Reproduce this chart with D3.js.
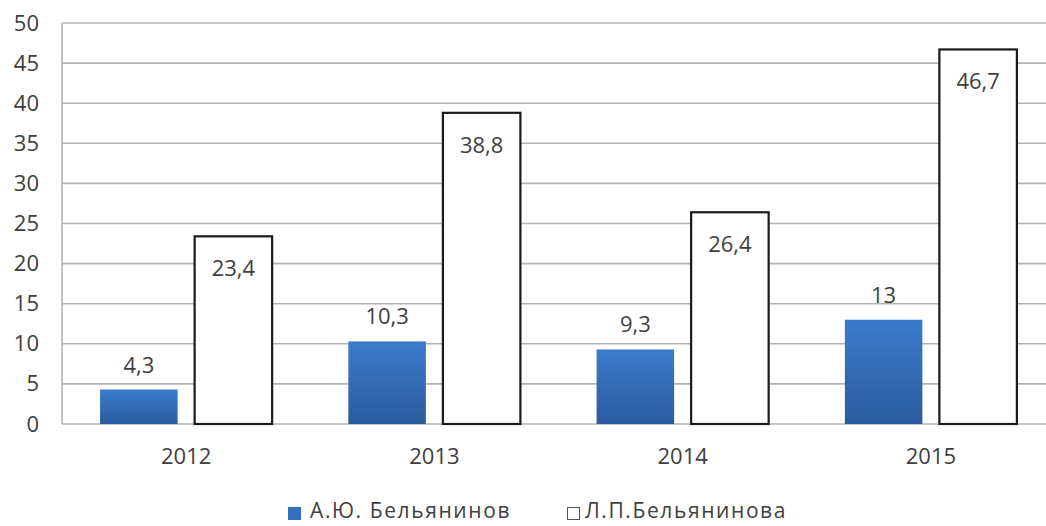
<!DOCTYPE html>
<html><head><meta charset="utf-8">
<script src="https://cdn.jsdelivr.net/npm/d3@7"></script>
<style>html,body{margin:0;padding:0;background:#fff;overflow:hidden}text{font-family:"Open Sans","Noto Sans",sans-serif;fill:#404040}</style>
</head><body>
<svg id="c" width="1046" height="526"></svg>
<script>
const categories = ["2012","2013","2014","2015"];
const seriesNames = ["А.Ю. Бельянинов","Л.П.Бельянинова"];
const seriesA = [4.3, 10.3, 9.3, 13];
const seriesB = [23.4, 38.8, 26.4, 46.7];
const labelsA = ["4,3","10,3","9,3","13"];
const labelsB = ["23,4","38,8","26,4","46,7"];
const yTicks = [0,5,10,15,20,25,30,35,40,45,50];

const FONT = '"Open Sans","Noto Sans",sans-serif';
const svg = d3.select("#c");
const m = {left:62, right:1055, top:23, bottom:424};
const defs = svg.append("defs");
const g = defs.append("linearGradient").attr("id","blue").attr("x1",0).attr("y1",0).attr("x2",0).attr("y2",1);
g.append("stop").attr("offset","0%").attr("stop-color","#3b7bcc");
g.append("stop").attr("offset","100%").attr("stop-color","#2a5b9e");

const x0 = d3.scaleBand().domain(categories).range([m.left,m.right]).paddingInner(0.307).paddingOuter(0.1535);
const x1 = d3.scaleBand().domain([0,1]).range([0,x0.bandwidth()]).paddingInner(0.18).paddingOuter(0);
const y = d3.scaleLinear().domain([0,50]).range([m.bottom,m.top]);

// gridlines
svg.append("g").selectAll("line").data(yTicks).join("line")
  .attr("x1",m.left).attr("x2",m.right).attr("y1",d=>y(d)).attr("y2",d=>y(d))
  .attr("stroke","#b3b3b3").attr("stroke-width",1.6);
// y axis line
svg.append("line").attr("x1",m.left).attr("x2",m.left).attr("y1",m.top).attr("y2",m.bottom)
  .attr("stroke","#b3b3b3").attr("stroke-width",1.6);

// y tick labels
const yAxis = d3.axisLeft(y).tickValues(yTicks).tickSize(0).tickPadding(23);
const ya = svg.append("g").attr("transform",`translate(${m.left},0)`).call(yAxis);
ya.select(".domain").remove();
ya.selectAll("text").style("font-size","22px").attr("fill","#404040").style("font-family",FONT);

// x labels
const xAxis = d3.axisBottom(x0).tickSize(0).tickPadding(24);
const xa = svg.append("g").attr("transform",`translate(0,${m.bottom})`).call(xAxis);
xa.select(".domain").remove();
xa.selectAll("text").style("font-size","22px").attr("fill","#404040").style("font-family",FONT);

const data = categories.map((c,i)=>({c, a:seriesA[i], b:seriesB[i], la:labelsA[i], lb:labelsB[i]}));

// series A bars
svg.append("g").selectAll("rect").data(data).join("rect")
  .attr("x",d=>x0(d.c)+x1(0)).attr("width",x1.bandwidth())
  .attr("y",d=>y(d.a)).attr("height",d=>y(0)-y(d.a))
  .attr("fill","url(#blue)");
// series B bars
svg.append("g").selectAll("rect").data(data).join("rect")
  .attr("x",d=>x0(d.c)+x1(1)).attr("width",x1.bandwidth())
  .attr("y",d=>y(d.b)).attr("height",d=>y(0)-y(d.b))
  .attr("fill","#fff").attr("stroke","#1a1a1a").attr("stroke-width",2.2);

// labels
svg.append("g").selectAll("text").data(data).join("text")
  .attr("x",d=>x0(d.c)+x1(0)+x1.bandwidth()/2).attr("y",d=>y(d.a)-26)
  .attr("text-anchor","middle").attr("dominant-baseline","central")
  .style("font-size","22px").text(d=>d.la);
svg.append("g").selectAll("text").data(data).join("text")
  .attr("x",d=>x0(d.c)+x1(1)+x1.bandwidth()/2).attr("y",d=>y(d.b)+31)
  .attr("text-anchor","middle").attr("dominant-baseline","central")
  .style("font-size","22px").text(d=>d.lb);

// legend
const leg = svg.append("g");
leg.append("rect").attr("x",288).attr("y",507).attr("width",13).attr("height",13).attr("fill","#3570ba");
leg.append("text").attr("x",310).attr("y",510).attr("dominant-baseline","central").style("font-size","21px").style("letter-spacing","1.6px").text(seriesNames[0]);
leg.append("rect").attr("x",567.5).attr("y",507.5).attr("width",12).attr("height",12).attr("fill","#fff").attr("stroke","#555").attr("stroke-width",1);
leg.append("text").attr("x",585).attr("y",510).attr("dominant-baseline","central").style("font-size","21px").style("letter-spacing","1.6px").text(seriesNames[1]);
</script>
</body></html>
